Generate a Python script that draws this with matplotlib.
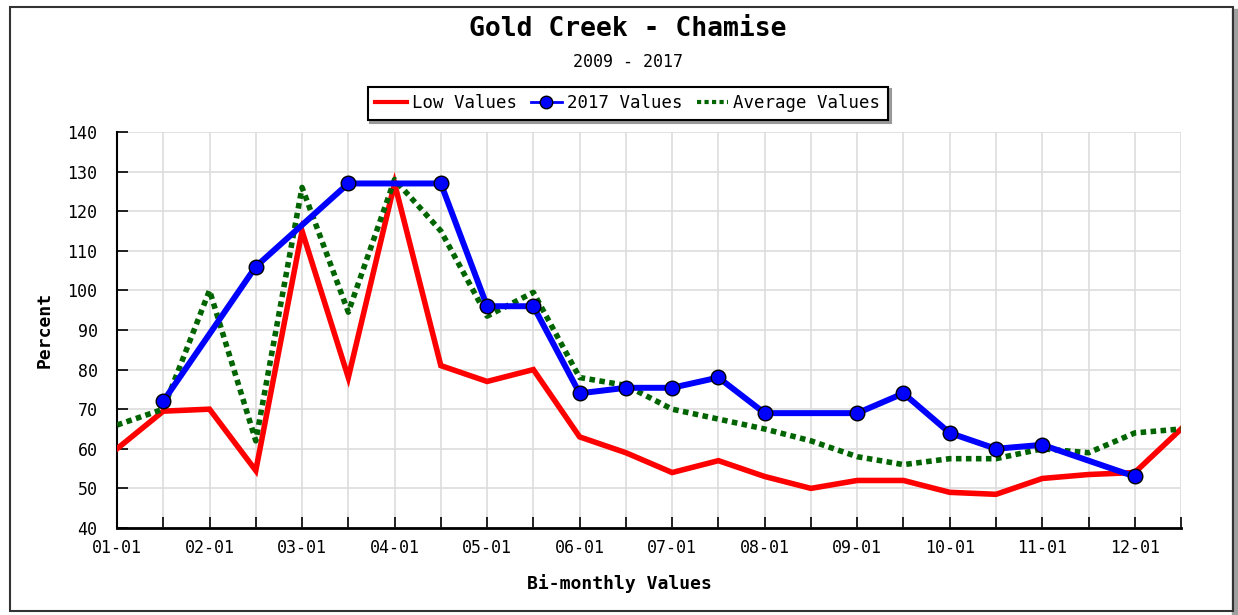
import numpy as np
import matplotlib.pyplot as plt
import matplotlib.patches as mpatches
from matplotlib.lines import Line2D

# tick labels shown on every whole month; data sits on half-month steps
MONTH_LABELS = ['01-01', '02-01', '03-01', '04-01', '05-01', '06-01',
                '07-01', '08-01', '09-01', '10-01', '11-01', '12-01']

# low values, one per half-month step (24 steps)
LOW_VALUES = [60, 69.5, 70, 54.5, 115, 78, 127, 81, 77, 80, 63, 59,
              54, 57, 53, 50, 52, 52, 49, 48.5, 52.5, 53.5, 54, 65]

# 2017 values, only where a reading exists
CUR_STEPS = [1, 3, 5, 7, 8, 9, 10, 11, 12, 13, 14, 16, 17, 18, 19, 20, 22]
CUR_VALUES = [72, 106, 127, 127, 96, 96, 74, 75.4, 75.4, 78, 69, 69,
              74, 64, 60, 61, 53]

# average values, one per half-month step
AVG_VALUES = [66, 70, 100, 62, 126, 94.5, 128, 115, 93.5, 99.5, 78, 76,
              70, 67.5, 65, 62, 58, 56, 57.5, 57.5, 60, 59, 64, 65]

MONO = 'DejaVu Sans Mono'

steps = np.arange(len(LOW_VALUES)) / 2.0
cur_x = np.array(CUR_STEPS) / 2.0

fig = plt.figure(figsize=(12.38, 6.15), dpi=100)

# outer frame with a grey drop shadow on the right/bottom
fig.patches.append(mpatches.Rectangle((0.9955, 0.0), 0.0045, 0.985,
                                      transform=fig.transFigure, color='#a0a0a0', zorder=0))
fig.patches.append(mpatches.Rectangle((0.008, 0.006), 0.988, 0.983,
                                      transform=fig.transFigure, fill=False,
                                      edgecolor='#333333', linewidth=1.5, zorder=1))

ax = fig.add_axes([0.0945, 0.1415, 0.8595, 0.6439])

ax.plot(steps, LOW_VALUES, color='#ff0000', linewidth=4, solid_joinstyle='miter', zorder=3)
ax.plot(steps, AVG_VALUES, color='#006400', linewidth=4, linestyle=(0, (1, 0.8)), zorder=4)
ax.plot(cur_x, CUR_VALUES, color='#0000ff', linewidth=4.3, marker='o', markersize=10.5,
        markerfacecolor='#0000ff', markeredgecolor='black', markeredgewidth=1, zorder=5)

ax.set_xlim(0, 11.5)
ax.set_ylim(40, 140)
ax.set_yticks(np.arange(40, 141, 10))
ax.set_xticks(np.arange(0, 12))
ax.set_xticklabels(MONTH_LABELS)
ax.set_xticks(np.arange(0, 11.6, 0.5), minor=True)

ax.grid(True, which='major', axis='y', color='#dddddd', linewidth=1.2, zorder=0)
ax.grid(True, which='both', axis='x', color='#dddddd', linewidth=1.2, zorder=0)
ax.set_axisbelow(True)

for side in ('top', 'right'):
    ax.spines[side].set_visible(False)
ax.spines['left'].set_linewidth(1.5)
ax.spines['bottom'].set_linewidth(2)

ax.tick_params(axis='y', which='major', direction='in', length=8, width=1.2,
               labelsize=12, pad=14)
ax.tick_params(axis='x', which='both', direction='in', length=8, width=1.2,
               labelsize=12, pad=8)
for lbl in ax.get_xticklabels() + ax.get_yticklabels():
    lbl.set_family(MONO)

ax.set_xlabel('Bi-monthly Values', fontsize=13, fontweight='bold', family=MONO, labelpad=10)
ax.xaxis.set_label_coords(0.472, -0.115)
ax.set_ylabel('Percent', fontsize=13, fontweight='bold', family=MONO, labelpad=10)

fig.text(0.507, 0.953, 'Gold Creek - Chamise', ha='center', va='center',
         fontsize=19, family=MONO, fontweight='semibold')
fig.text(0.507, 0.899, '2009 - 2017', ha='center', va='center', fontsize=12, family=MONO)

handles = [
    Line2D([], [], color='#ff0000', linewidth=3),
    Line2D([], [], color='#0000ff', linewidth=2, marker='o', markersize=9,
           markerfacecolor='#0000ff', markeredgecolor='black'),
    Line2D([], [], color='#006400', linewidth=3, linestyle=(0, (1, 0.8))),
]
leg = fig.legend(handles, ['Low Values', '2017 Values', 'Average Values'],
                 loc='center', bbox_to_anchor=(0.507, 0.832), ncol=3,
                 prop={'family': MONO, 'size': 12.5}, frameon=True, fancybox=False,
                 shadow={'color': '#999999', 'alpha': 1}, handlelength=1.8,
                 handletextpad=0.3, columnspacing=0.8, borderpad=0.45)
leg.get_frame().set_edgecolor('black')
leg.get_frame().set_linewidth(1.5)

fig.savefig('out.png', dpi=100)
